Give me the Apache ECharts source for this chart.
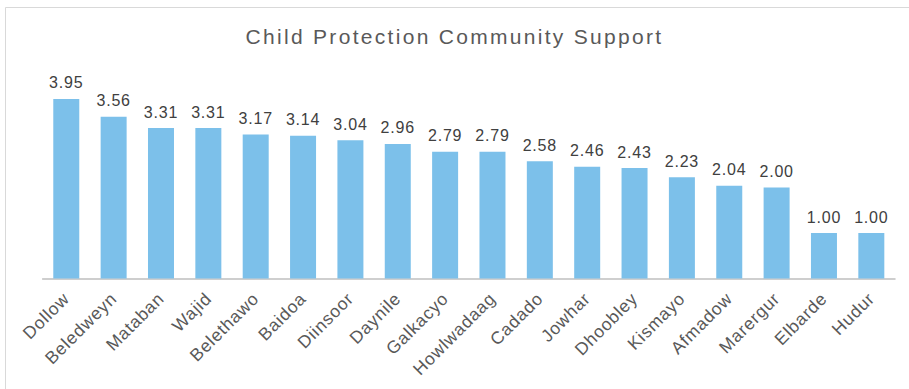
<!DOCTYPE html>
<html><head><meta charset="utf-8">
<script src="https://cdn.jsdelivr.net/npm/echarts@6/dist/echarts.min.js"></script>
<style>html,body{margin:0;padding:0;background:#fff}#c{width:909px;height:389px}
#c svg text{letter-spacing:0.8px}</style>
</head><body><div id="c"></div>
<script>
var categories = ["Dollow","Beledweyn","Mataban","Wajid","Belethawo","Baidoa","Diinsoor","Daynile","Galkacyo","Howlwadaag","Cadado","Jowhar","Dhoobley","Kismayo","Afmadow","Marergur","Elbarde","Hudur"];
var values = [3.95,3.56,3.31,3.31,3.17,3.14,3.04,2.96,2.79,2.79,2.58,2.46,2.43,2.23,2.04,2.00,1.00,1.00];
var titleText = 'Child Protection Community Support';
var chart = echarts.init(document.getElementById('c'), null, {renderer:'svg'});
chart.setOption({
  animation:false,
  backgroundColor:'#fff',
  title:{text:titleText,left:'center',top:21,
    textStyle:{fontFamily:'Liberation Sans, Arial',fontSize:21,fontWeight:'normal',color:'#595959'}},
  graphic:[{type:'rect',shape:{x:5.5,y:7.5,width:1200,height:1200},style:{fill:'none',stroke:'#d9d9d9',lineWidth:1},silent:true}],
  grid:{left:42.6,right:14,top:74,bottom:110.5,containLabel:false},
  xAxis:{type:'category',data:categories,
    axisLine:{lineStyle:{color:'#bfbfbf',width:1.5}},
    axisTick:{show:false},
    axisLabel:{rotate:45,interval:0,fontFamily:'Liberation Sans, Arial',fontSize:17.5,color:'#595959',margin:17}},
  yAxis:{type:'value',min:0,max:4.5,show:false,splitLine:{show:false}},
  series:[{type:'bar',data:values,barWidth:26,itemStyle:{color:'#7cc0ea'},
    label:{show:true,position:'top',distance:8,formatter:function(p){return p.value.toFixed(2);},
      fontFamily:'Liberation Sans, Arial',fontSize:16,color:'#404040'}}]
});
var texts = document.querySelectorAll('#c svg text');
texts.forEach(function(t){ if (t.textContent === titleText) { t.style.letterSpacing = '2.3px'; } });
</script></body></html>
